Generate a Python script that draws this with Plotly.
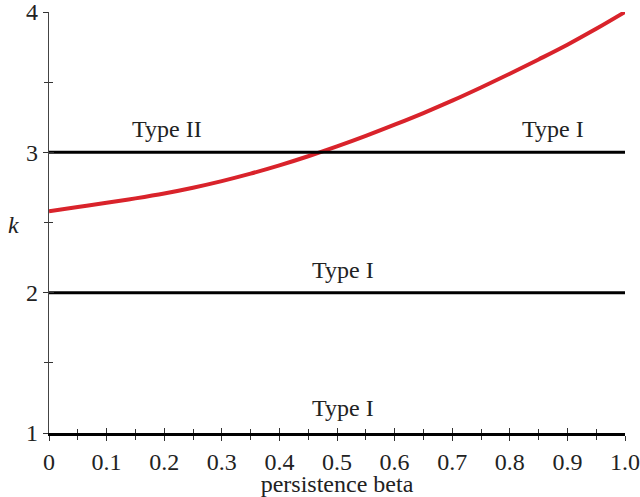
import plotly.graph_objects as go

# red curve k(beta)
beta = [0.0, 0.05, 0.1, 0.15, 0.2, 0.25, 0.3, 0.35, 0.4, 0.45, 0.5,
        0.55, 0.6, 0.65, 0.7, 0.75, 0.8, 0.85, 0.9, 0.95, 1.0]
k_curve = [2.58, 2.61, 2.64, 2.672, 2.707, 2.748, 2.795, 2.848, 2.907, 2.972, 3.042,
           3.117, 3.197, 3.28, 3.368, 3.462, 3.56, 3.662, 3.767, 3.88, 4.0]

# horizontal boundaries
bound_x = [0.0, 1.0]
bound_k = [2.0, 3.0]

# region labels
label_x = [0.205, 0.875, 0.51, 0.51]
label_k = [3.165, 3.165, 2.165, 1.18]
label_text = ["Type II", "Type I", "Type I", "Type I"]

x_ticks = [0, 0.1, 0.2, 0.3, 0.4, 0.5, 0.6, 0.7, 0.8, 0.9, 1.0]
x_ticktext = ["0", "0.1", "0.2", "0.3", "0.4", "0.5", "0.6", "0.7", "0.8", "0.9", "1.0"]
y_ticks = [1, 2, 3, 4]

SERIF = "Liberation Serif, Times New Roman, serif"
RED = "#d9232b"
TXT = "#222222"

fig = go.Figure()

for kv in bound_k:
    fig.add_trace(go.Scatter(
        x=bound_x, y=[kv, kv], mode="lines",
        line=dict(color="black", width=3),
        xaxis="x2", yaxis="y2", hoverinfo="skip", showlegend=False,
    ))

fig.add_trace(go.Scatter(
    x=beta, y=k_curve, mode="lines",
    line=dict(color=RED, width=4, shape="spline"),
    cliponaxis=False, showlegend=False,
))

for x, y, t in zip(label_x, label_k, label_text):
    fig.add_annotation(x=x, y=y, text=t, showarrow=False,
                       font=dict(family=SERIF, size=24, color=TXT))

fig.add_annotation(xref="paper", yref="y", x=-0.074, y=2.48, text="<i>k</i>",
                   showarrow=False, font=dict(family=SERIF, size=24, color=TXT))

axis_common = dict(showgrid=False, zeroline=False, ticklen=5, tickwidth=1,
                   tickcolor="#333333", automargin=False)

fig.update_layout(
    width=640, height=497,
    margin=dict(l=49, r=15, t=12, b=64),
    paper_bgcolor="white", plot_bgcolor="white",
    font=dict(family=SERIF, size=24, color=TXT),
    xaxis=dict(range=[0, 1], tickvals=x_ticks, ticktext=x_ticktext, ticks="outside",
               showline=True, linecolor="black", linewidth=3,
               ticklabeloverflow="allow",
               minor=dict(dtick=0.05, ticks="outside", ticklen=4, tickcolor="#333333"),
               title=dict(text="persistence beta", standoff=0,
                          font=dict(family=SERIF, size=24, color=TXT)),
               tickfont=dict(family=SERIF, size=24, color=TXT), **axis_common),
    yaxis=dict(range=[1, 4], tickvals=y_ticks, ticks="outside",
               showline=True, linecolor="#444444", linewidth=1.2,
               ticklabeloverflow="allow",
               minor=dict(dtick=0.5, ticks="outside", ticklen=4, tickcolor="#333333"),
               tickfont=dict(family=SERIF, size=24, color=TXT), **axis_common),
    xaxis2=dict(overlaying="x", matches="x", range=[0, 1], tickvals=x_ticks,
                ticks="inside", showticklabels=False, showline=False,
                minor=dict(dtick=0.05, ticks="inside", ticklen=4, tickcolor="#333333"),
                **axis_common),
    yaxis2=dict(overlaying="y", matches="y", range=[1, 4], tickvals=y_ticks,
                ticks="inside", showticklabels=False, showline=False,
                minor=dict(dtick=0.5, ticks="inside", ticklen=4, tickcolor="#333333"),
                **axis_common),
)

# drop the page's default 8px body margin so the figure sits at the top-left corner
fig.write_html("out.html", config={"displayModeBar": False},
               post_script="document.body.style.margin='0';")
